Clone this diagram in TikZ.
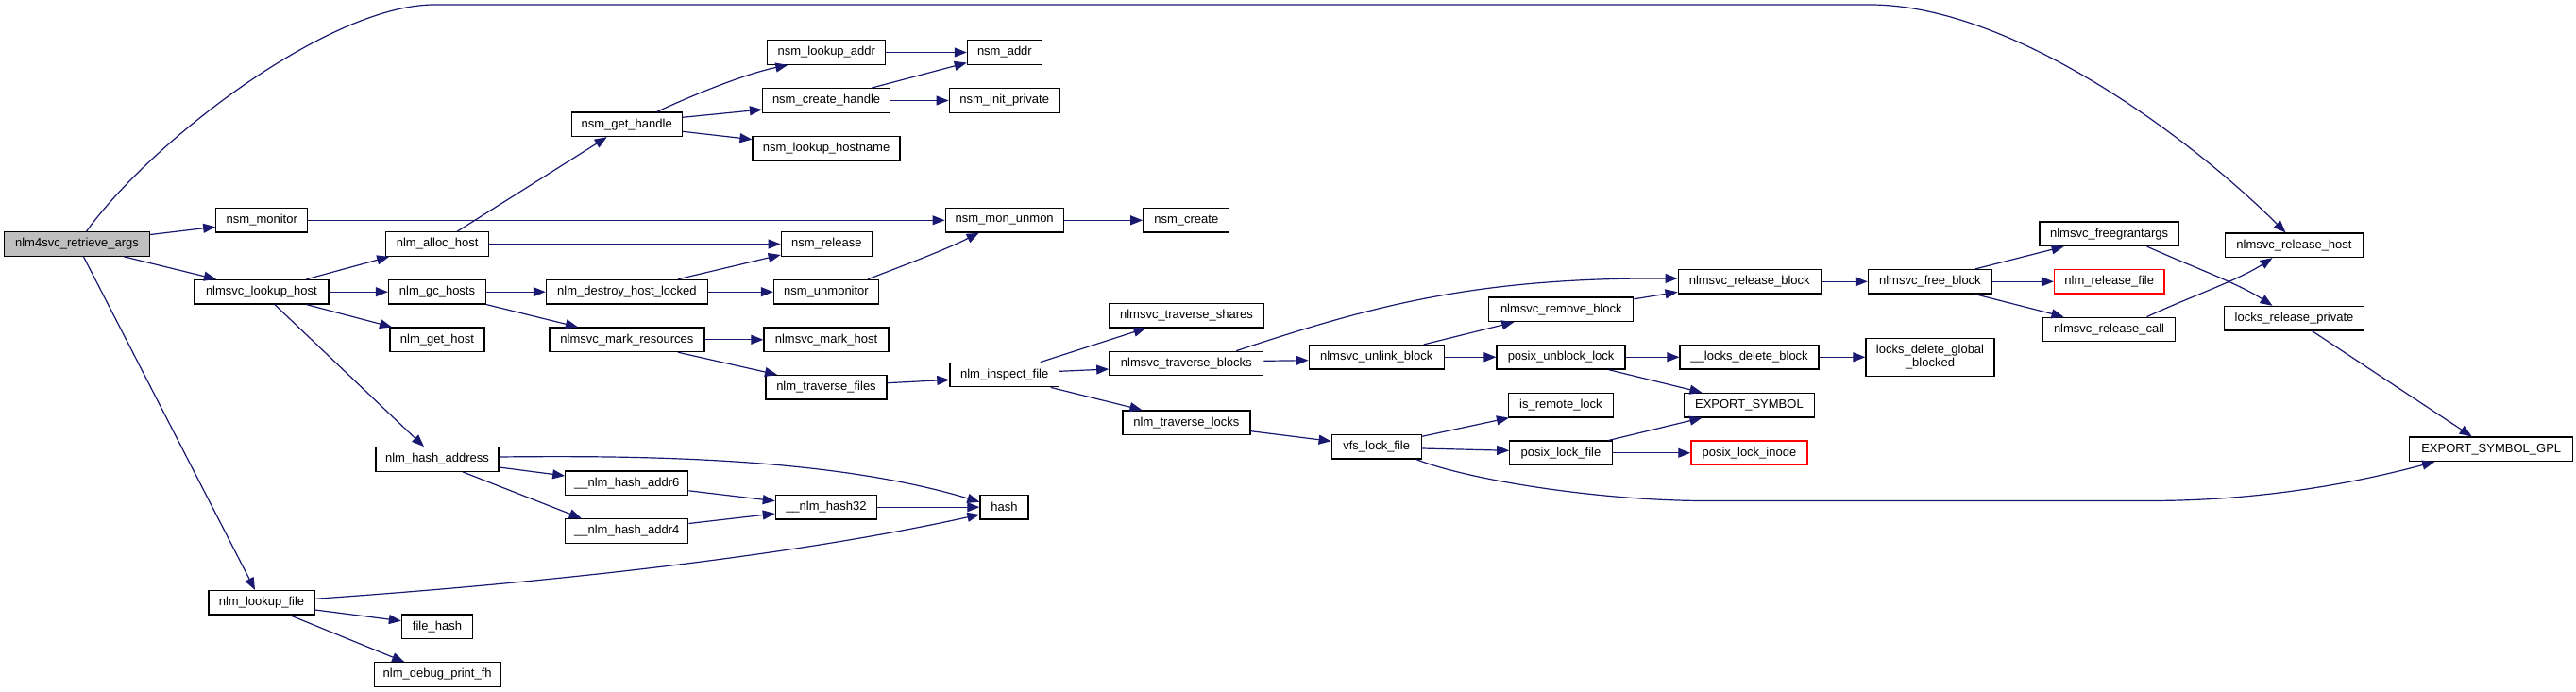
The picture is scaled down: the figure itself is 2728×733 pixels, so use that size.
\documentclass[tikz,border=0pt]{standalone}
\usepackage{fontspec}
\setmainfont{Liberation Sans}
\usetikzlibrary{arrows.meta}
\newcommand{\nodefont}{\fontsize{13}{14}\selectfont}
\definecolor{edgeblue}{HTML}{191970}
\definecolor{rootgray}{HTML}{BFBFBF}
\tikzset{
  fn/.style={draw=black, line width=1.3pt, fill=white, minimum height=25.5pt, inner sep=0pt, font=\nodefont},
  rootfn/.style={fn, fill=rootgray},
  redfn/.style={fn, draw=red},
  ed/.style={draw=edgeblue, line width=1.2pt, -{Triangle[length=13pt,width=10pt]}}
}
\begin{document}
\begin{tikzpicture}[x=1pt,y=-1pt]
\useasboundingbox[fill=white] (0,0) rectangle (2728,733);
% nodes
\node[rootfn, minimum width=154pt] (retr) at (81.5,258.5) {nlm4svc\_retrieve\_args};
\node[fn, minimum width=97pt] (mon) at (277.3,233.3) {nsm\_monitor};
\node[fn, minimum width=109pt] (alloc) at (463.2,258.5) {nlm\_alloc\_host};
\node[fn, minimum width=142pt] (lhost) at (276.9,309.2) {nlmsvc\_lookup\_host};
\node[fn, minimum width=103pt] (gc) at (463,309.2) {nlm\_gc\_hosts};
\node[fn, minimum width=100pt] (gethost) at (463,359.8) {nlm\_get\_host};
\node[fn, minimum width=117pt] (gethandle) at (663.7,131.8) {nsm\_get\_handle};
\node[fn, minimum width=171pt] (destroy) at (663.9,309.2) {nlm\_destroy\_host\_locked};
\node[fn, minimum width=164pt] (markres) at (663.9,359.8) {nlmsvc\_mark\_resources};
\node[fn, minimum width=130pt] (hashaddr) at (463,486.5) {nlm\_hash\_address};
\node[fn, minimum width=130pt] (addr6) at (663.8,511.8) {\_\_nlm\_hash\_addr6};
\node[fn, minimum width=130pt] (addr4) at (663.8,562.5) {\_\_nlm\_hash\_addr4};
\node[fn, minimum width=112pt] (lfile) at (277,638.3) {nlm\_lookup\_file};
\node[fn, minimum width=75pt] (fhash) at (463,663.7) {file\_hash};
\node[fn, minimum width=134pt] (dbg) at (463.2,714.5) {nlm\_debug\_print\_fh};
\node[fn, minimum width=125pt] (lookaddr) at (875.3,55.5) {nsm\_lookup\_addr};
\node[fn, minimum width=79pt] (nsmaddr) at (1063.9,55.5) {nsm\_addr};
\node[fn, minimum width=135pt] (createh) at (875.1,106.5) {nsm\_create\_handle};
\node[fn, minimum width=117pt] (initp) at (1063.7,106.5) {nsm\_init\_private};
\node[fn, minimum width=156pt] (lookhn) at (875.1,157.3) {nsm\_lookup\_hostname};
\node[fn, minimum width=125pt] (monunmon) at (1063.7,233.3) {nsm\_mon\_unmon};
\node[fn, minimum width=91pt] (nsmcreate) at (1256.3,233.3) {nsm\_create};
\node[fn, minimum width=96pt] (nsmrel) at (875.3,258.5) {nsm\_release};
\node[fn, minimum width=111pt] (unmon) at (875,309.2) {nsm\_unmonitor};
\node[fn, minimum width=132pt] (markhost) at (875,359.8) {nlmsvc\_mark\_host};
\node[fn, minimum width=164pt] (tshares) at (1256.5,334.2) {nlmsvc\_traverse\_shares};
\node[fn, minimum width=128pt] (tfiles) at (875,410.3) {nlm\_traverse\_files};
\node[fn, minimum width=115.5pt] (inspect) at (1063.7,397) {nlm\_inspect\_file};
\node[fn, minimum width=163pt] (tblocks) at (1256.3,385) {nlmsvc\_traverse\_blocks};
\node[fn, minimum width=135pt] (tlocks) at (1256.4,447.7) {nlm\_traverse\_locks};
\node[fn, minimum width=107pt] (hash32) at (874.9,537.2) {\_\_nlm\_hash32};
\node[fn, minimum width=51pt] (hash) at (1063.5,537.2) {hash};
\node[fn, minimum width=151pt] (relblock) at (1852.7,298.3) {nlmsvc\_release\_block};
\node[fn, minimum width=153pt] (remblock) at (1653.3,327.8) {nlmsvc\_remove\_block};
\node[fn, minimum width=131pt] (freeblock) at (2043.9,298.3) {nlmsvc\_free\_block};
\node[fn, minimum width=143pt] (unlink) at (1457.7,378.3) {nlmsvc\_unlink\_block};
\node[fn, minimum width=136pt] (punblock) at (1653.1,378.3) {posix\_unblock\_lock};
\node[fn, minimum width=147pt] (ldelblock) at (1852.6,378.3) {\_\_locks\_delete\_block};
\node[fn, minimum width=136pt, minimum height=40pt, align=center] (ldglobal) at (2044,378.3) {locks\_delete\_global\\\_blocked};
\node[fn, minimum width=138pt] (expsym) at (1852.4,429.2) {EXPORT\_SYMBOL};
\node[fn, minimum width=111pt] (isremote) at (1652.9,429.2) {is\_remote\_lock};
\node[fn, minimum width=95pt] (vfs) at (1457.7,473.2) {vfs\_lock\_file};
\node[fn, minimum width=108.5pt] (plockfile) at (1653,479.8) {posix\_lock\_file};
\node[redfn, minimum width=123pt] (plockinode) at (1852.4,479.8) {posix\_lock\_inode};
\node[fn, minimum width=147pt] (freegrant) at (2233.6,247.7) {nlmsvc\_freegrantargs};
\node[redfn, minimum width=116.5pt] (relfile) at (2233.7,298.3) {nlm\_release\_file};
\node[fn, minimum width=140pt] (relcall) at (2233.5,349) {nlmsvc\_release\_call};
\node[fn, minimum width=145.5pt] (relhost) at (2429.5,259.8) {nlmsvc\_release\_host};
\node[fn, minimum width=148pt] (lrelpriv) at (2429.5,337.2) {locks\_release\_private};
\node[fn, minimum width=173pt] (gpl) at (2638.2,475.8) {EXPORT\_SYMBOL\_GPL};
% edges
\draw[ed] ([xshift=10pt]retr.north) .. controls (163.5,146) and (350,5) .. (460,5) -- (1980,5) .. controls (2130,5) and (2318.6,145) .. ([xshift=-9pt]relhost.north);
\draw[ed] ([yshift=10pt]retr.east) -- ([yshift=-7pt]mon.west);
\draw[ed] ([xshift=50pt]retr.south) -- ([xshift=-48pt]lhost.north);
\draw[ed] ([xshift=7pt]retr.south) -- ([xshift=-7pt]lfile.north);
\draw[ed] (mon.east) -- (monunmon.west);
\draw[ed] ([xshift=47.6pt]lhost.north) -- ([xshift=-51pt]alloc.south);
\draw[ed] (lhost.east) -- (gc.west);
\draw[ed] ([xshift=47.6pt]lhost.south) -- ([xshift=-48pt]gethost.north);
\draw[ed] ([xshift=14pt]lhost.south) -- ([xshift=-14pt]hashaddr.north);
\draw[ed] ([xshift=21pt]alloc.north) -- ([xshift=-21pt]gethandle.south);
\draw[ed] (alloc.east) -- (nsmrel.west);
\draw[ed] (gc.east) -- (destroy.west);
\draw[ed] (gc.south east) -- ([xshift=-52pt]markres.north);
\draw[ed] ([xshift=32pt]gethandle.north) .. controls (735,100) and (790,78) .. ([xshift=-41pt]lookaddr.south);
\draw[ed] ([yshift=7.5pt]gethandle.east) -- ([yshift=-9.5pt]createh.west);
\draw[ed] ([yshift=-7.5pt]gethandle.east) -- ([yshift=9.6pt]lookhn.west);
\draw[ed] (lookaddr.east) -- (nsmaddr.west);
\draw[ed] ([xshift=48pt]createh.north) -- ([yshift=-11pt]nsmaddr.west);
\draw[ed] (createh.east) -- (initp.west);
\draw[ed] (monunmon.east) -- (nsmcreate.west);
\draw[ed] ([xshift=54pt]destroy.north) -- ([yshift=-11.5pt]nsmrel.west);
\draw[ed] (destroy.east) -- (unmon.west);
\draw[ed] ([xshift=44pt]unmon.north) .. controls (960,280) and (1000,265) .. ([xshift=-27pt]monunmon.south);
\draw[ed] (markres.east) -- (markhost.west);
\draw[ed] ([xshift=54pt]markres.south) -- ([xshift=-52pt]tfiles.north);
\draw[ed] ([yshift=4.6pt]tfiles.east) -- ([yshift=-5.3pt]inspect.west);
\draw[ed] ([xshift=38pt]inspect.north) -- ([xshift=-43pt]tshares.south);
\draw[ed] ([yshift=3.7pt]inspect.east) -- ([yshift=-6pt]tblocks.west);
\draw[ed] ([xshift=49pt]inspect.south) -- ([xshift=-47pt]tlocks.north);
\draw[ed] ([yshift=2.7pt]tblocks.east) -- ([yshift=-3.4pt]unlink.west);
\draw[ed] ([xshift=53pt]tblocks.north) .. controls (1450,325) and (1560,294) .. ([yshift=3.3pt]relblock.west);
\draw[ed] ([xshift=50pt]unlink.north) -- ([xshift=-50pt]remblock.south);
\draw[ed] (unlink.east) -- (punblock.west);
\draw[ed] ([yshift=11pt]remblock.east) -- ([yshift=-11pt]relblock.west);
\draw[ed] (relblock.east) -- (freeblock.west);
\draw[ed] ([xshift=48pt]freeblock.north) -- ([xshift=-48pt]freegrant.south);
\draw[ed] (freeblock.east) -- (relfile.west);
\draw[ed] ([xshift=48pt]freeblock.south) -- ([xshift=-48pt]relcall.north);
\draw[ed] ([xshift=40pt]freegrant.south) .. controls (2320,282) and (2370,300) .. ([xshift=-23pt]lrelpriv.north);
\draw[ed] ([xshift=40pt]relcall.north) .. controls (2320,314) and (2370,297) .. ([xshift=-23pt]relhost.south);
\draw[ed] ([xshift=19pt]lrelpriv.south) -- ([xshift=-20.5pt]gpl.north);
\draw[ed] (punblock.east) -- (ldelblock.west);
\draw[ed] ([xshift=50.6pt]punblock.south) -- ([xshift=-50pt]expsym.north);
\draw[ed] (ldelblock.east) -- (ldglobal.west);
\draw[ed] ([yshift=-9pt]tlocks.east) -- ([yshift=5.9pt]vfs.west);
\draw[ed] ([yshift=10.9pt]vfs.east) -- ([xshift=-55pt]isremote.south);
\draw[ed] ([yshift=-1.8pt]vfs.east) -- ([yshift=2.5pt]plockfile.west);
\draw[ed] ([xshift=42pt]vfs.south) .. controls (1560,510) and (1700,530.5) .. (1806,530.5) -- (2275,530.5) .. controls (2400,530.5) and (2500,510) .. ([xshift=-60pt]gpl.south);
\draw[ed] ([xshift=50.7pt]plockfile.north) -- ([xshift=-50pt]expsym.south);
\draw[ed] (plockfile.east) -- (plockinode.west);
\draw[ed] ([yshift=2.5pt]hashaddr.east) .. controls (700,482) and (888,486.7) .. ([yshift=5.5pt]hash.west);
\draw[ed] ([yshift=-8.5pt]hashaddr.east) -- ([yshift=7.8pt]addr6.west);
\draw[ed] ([xshift=27pt]hashaddr.south) -- ([xshift=-48pt]addr4.north);
\draw[ed] ([yshift=-8pt]addr6.east) -- ([yshift=6.5pt]hash32.west);
\draw[ed] ([yshift=8pt]addr4.east) -- ([yshift=-6.8pt]hash32.west);
\draw[ed] (hash32.east) -- (hash.west);
\draw[ed] ([yshift=4pt]lfile.east) .. controls (583,617) and (838,589) .. ([yshift=-7.8pt]hash.west);
\draw[ed] ([yshift=-7.7pt]lfile.east) -- ([yshift=6pt]fhash.west);
\draw[ed] ([xshift=30pt]lfile.south) -- ([xshift=-35pt]dbg.north);
\end{tikzpicture}
\end{document}
